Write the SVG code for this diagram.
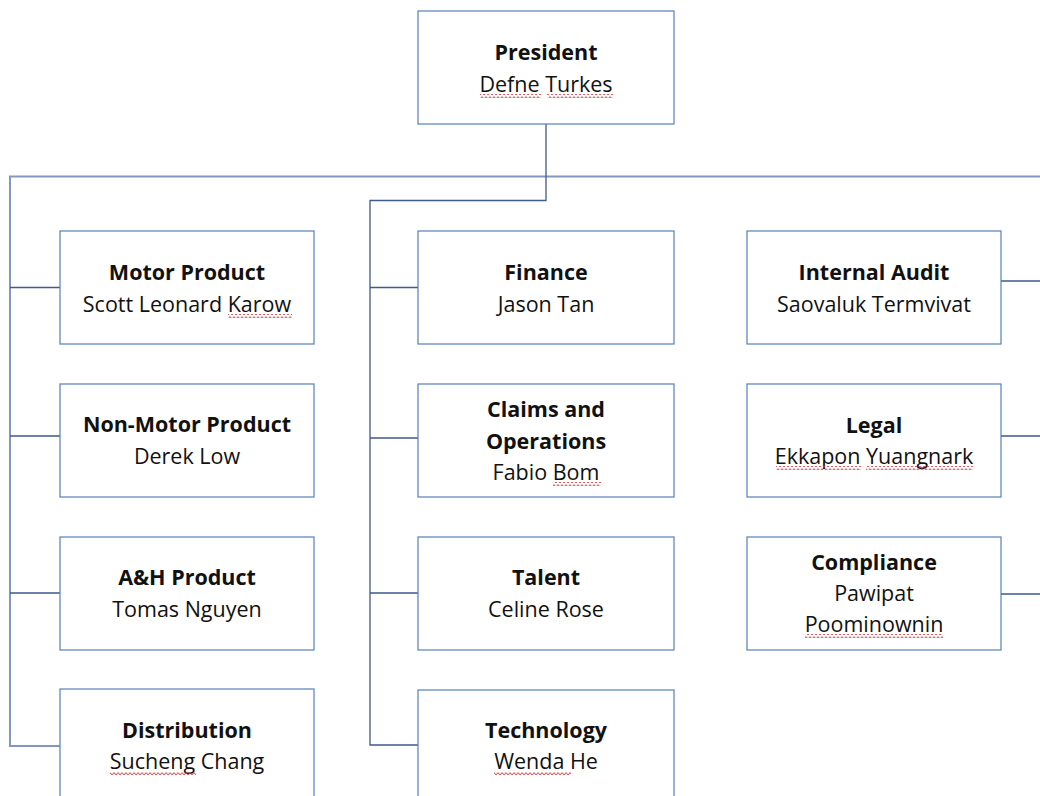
<svg xmlns="http://www.w3.org/2000/svg" width="1040" height="796" viewBox="0 0 1040 796">
<defs>
<pattern id="sq" patternUnits="userSpaceOnUse" width="4" height="4">
<polyline points="0,3 1,1.5 2,0.8 3,1.5 4,3" fill="none" stroke="#e03a3e" stroke-width="1"/>
</pattern>
</defs>
<style>
.box{fill:#ffffff;stroke:#5580b8;stroke-width:1.2}
.t{font-family:"Open Sans","Noto Sans",sans-serif;font-size:21.5px;fill:#111111;text-anchor:middle}
.b{font-weight:bold}
.c{fill:none;stroke:#3f5a8c;stroke-width:1.3}
.lt{fill:none;stroke:#8497bd;stroke-width:2}
.sq{fill:url(#sq)}
</style>
<rect width="1040" height="796" fill="#ffffff"/>
<g id="connectors">
<path class="lt" d="M1040,176.5 H10 V746 H60"/>
<path class="c" d="M546,124 V200.5 H370 V745 H418"/>
<path class="c" d="M10,287.5 H60 M10,436 H60 M10,593 H60"/>
<path class="c" d="M370,287.5 H418 M370,438 H418 M370,593 H418"/>
<path class="c" d="M1001,281 H1040 M1001,436 H1040 M1001,594 H1040"/>
</g>
<g id="president">
<rect class="box" x="418" y="11" width="256" height="113"/>
<text class="t b" x="546" y="60">President</text>
<text class="t" x="546" y="92">Defne Turkes</text>
<rect class="sq" x="480" y="94" width="61" height="4"/>
<rect class="sq" x="547" y="94" width="66" height="4"/>
</g>
<g id="motor">
<rect class="box" x="60" y="231" width="254" height="113"/>
<text class="t b" x="187" y="280">Motor Product</text>
<text class="t" x="187" y="312">Scott Leonard Karow</text>
<rect class="sq" x="228" y="314" width="64" height="4"/>
</g>
<g id="nonmotor">
<rect class="box" x="60" y="384" width="254" height="113"/>
<text class="t b" x="187" y="432">Non-Motor Product</text>
<text class="t" x="187" y="463.5">Derek Low</text>
</g>
<g id="ah">
<rect class="box" x="60" y="537" width="254" height="113"/>
<text class="t b" x="187" y="585">A&amp;H Product</text>
<text class="t" x="187" y="616.5">Tomas Nguyen</text>
</g>
<g id="distribution">
<rect class="box" x="60" y="689" width="254" height="120"/>
<text class="t b" x="187" y="737.5">Distribution</text>
<text class="t" x="187" y="769">Sucheng Chang</text>
<rect class="sq" x="110" y="772" width="86" height="4"/>
</g>
<g id="finance">
<rect class="box" x="418" y="231" width="256" height="113"/>
<text class="t b" x="546" y="280">Finance</text>
<text class="t" x="546" y="312">Jason Tan</text>
</g>
<g id="claims">
<rect class="box" x="418" y="384" width="256" height="113"/>
<text class="t b" x="546" y="417">Claims and</text>
<text class="t b" x="546" y="448.5">Operations</text>
<text class="t" x="546" y="480">Fabio Bom</text>
<rect class="sq" x="553" y="482" width="48" height="4"/>
</g>
<g id="talent">
<rect class="box" x="418" y="537" width="256" height="113"/>
<text class="t b" x="546" y="585">Talent</text>
<text class="t" x="546" y="616.5">Celine Rose</text>
</g>
<g id="technology">
<rect class="box" x="418" y="690" width="256" height="120"/>
<text class="t b" x="546" y="737.5">Technology</text>
<text class="t" x="546" y="769">Wenda He</text>
<rect class="sq" x="494" y="772" width="77" height="4"/>
</g>
<g id="audit">
<rect class="box" x="747" y="231" width="254" height="113"/>
<text class="t b" x="874" y="280">Internal Audit</text>
<text class="t" x="874" y="312">Saovaluk Termvivat</text>
</g>
<g id="legal">
<rect class="box" x="747" y="384" width="254" height="113"/>
<text class="t b" x="874" y="432.5">Legal</text>
<text class="t" x="874" y="464">Ekkapon Yuangnark</text>
<rect class="sq" x="776" y="466" width="85" height="4"/>
<rect class="sq" x="866" y="466" width="107" height="4"/>
</g>
<g id="compliance">
<rect class="box" x="747" y="537" width="254" height="113"/>
<text class="t b" x="874" y="569.5">Compliance</text>
<text class="t" x="874" y="601">Pawipat</text>
<text class="t" x="874" y="632">Poominownin</text>
<rect class="sq" x="805" y="634" width="138" height="4"/>
</g>
</svg>
